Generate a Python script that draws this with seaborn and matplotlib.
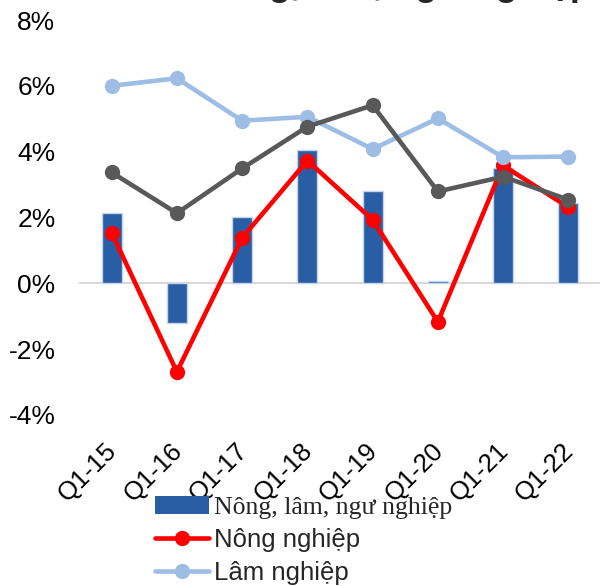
import numpy as np
import pandas as pd
import matplotlib
matplotlib.use("Agg")
import matplotlib.pyplot as plt
from matplotlib.lines import Line2D
from matplotlib.patches import Patch
from matplotlib.transforms import ScaledTranslation
import seaborn as sns

# Quarterly growth, Q1 of each year (%)
quarters = ["Q1-15", "Q1-16", "Q1-17", "Q1-18", "Q1-19", "Q1-20", "Q1-21", "Q1-22"]
nong_lam_ngu = [2.13, -1.22, 2.03, 4.05, 2.80, 0.07, 3.51, 2.45]
nong_nghiep = [1.54, -2.69, 1.38, 3.73, 1.93, -1.17, 3.58, 2.31]
lam_nghiep = [6.00, 6.23, 4.94, 5.06, 4.08, 5.01, 3.83, 3.85]
thuy_san = [3.37, 2.13, 3.49, 4.76, 5.41, 2.79, 3.24, 2.54]

labels = ["Nông, lâm, ngư nghiệp", "Nông nghiệp", "Lâm nghiệp", "Thủy sản"]
yticks = [-4, -2, 0, 2, 4, 6, 8]

BAR = "#2A5EA4"
RED = "#FF0000"
LIGHT = "#9DBDE4"
GRAY = "#595959"

sns.set_theme(style="white")
plt.rcParams["font.family"] = ["Liberation Sans", "DejaVu Sans"]

df = pd.DataFrame({
    "quarter": quarters,
    "pos": np.arange(len(quarters)),
    "nlnn": nong_lam_ngu,
    "nn": nong_nghiep,
    "ln": lam_nghiep,
    "ts": thuy_san,
})

fig = plt.figure(figsize=(6.0, 5.86), dpi=100)
ax = fig.add_axes([79 / 600, 1 - 415 / 586, 522 / 600, 395 / 586])

ax.axhline(0, color="#D9D9D9", lw=1.5, zorder=0.5)

sns.barplot(data=df, x="quarter", y="nlnn", color=BAR, saturation=1,
            width=0.31, edgecolor="#C3D4EC", linewidth=1, ax=ax, zorder=2)

line_kw = dict(marker="o", markersize=11, linewidth=3.3, markeredgewidth=0)
sns.lineplot(data=df, x="pos", y="nn", color=RED, ax=ax, zorder=3, **line_kw)
sns.lineplot(data=df, x="pos", y="ln", color=LIGHT, ax=ax, zorder=4, **line_kw)
sns.lineplot(data=df, x="pos", y="ts", color=GRAY, ax=ax, zorder=5, **line_kw)

ax.set_xlim(-0.5, len(quarters) - 0.5)
ax.set_ylim(-4, 8)
ax.set_yticks(yticks)
ax.set_yticklabels([f"{v}%" for v in yticks])
ax.set_xticks(range(len(quarters)))
ax.set_xticklabels(quarters, rotation=45, ha="right", va="top",
                   rotation_mode="anchor")
ax.set_xlabel("")
ax.set_ylabel("")
ax.tick_params(axis="y", length=0, pad=17, labelsize=19, colors="black")
ax.tick_params(axis="x", length=0, pad=17, labelsize=18.5, colors="black")
shift = ScaledTranslation(-7 / 100, 0, fig.dpi_scale_trans)
for lbl in ax.get_xticklabels():
    lbl.set_transform(lbl.get_transform() + shift)
for s in ax.spines.values():
    s.set_visible(False)
ax.grid(False)

handles = [
    Patch(facecolor=BAR, edgecolor="none"),
    Line2D([], [], color=RED, lw=3.3, marker="o", ms=11, mew=0),
    Line2D([], [], color=LIGHT, lw=3.3, marker="o", ms=11, mew=0),
    Line2D([], [], color=GRAY, lw=3.3, marker="o", ms=11, mew=0),
]
leg = fig.legend(handles, labels, loc="upper left",
                 bbox_to_anchor=(155 / 600, 1 - 496 / 586),
                 frameon=False, fontsize=18.5, borderpad=0, borderaxespad=0,
                 handlelength=2.1, handletextpad=0.2, labelspacing=0.36)
leg.get_texts()[0].set_fontfamily(["Liberation Serif", "DejaVu Serif"])

fig.text(115 / 600, 1 + 5 / 586, "GDP nông, lâm, ngư nghiệp",
         fontsize=26, fontweight="bold", ha="left", va="baseline")

fig.savefig("out.png", dpi=100)
